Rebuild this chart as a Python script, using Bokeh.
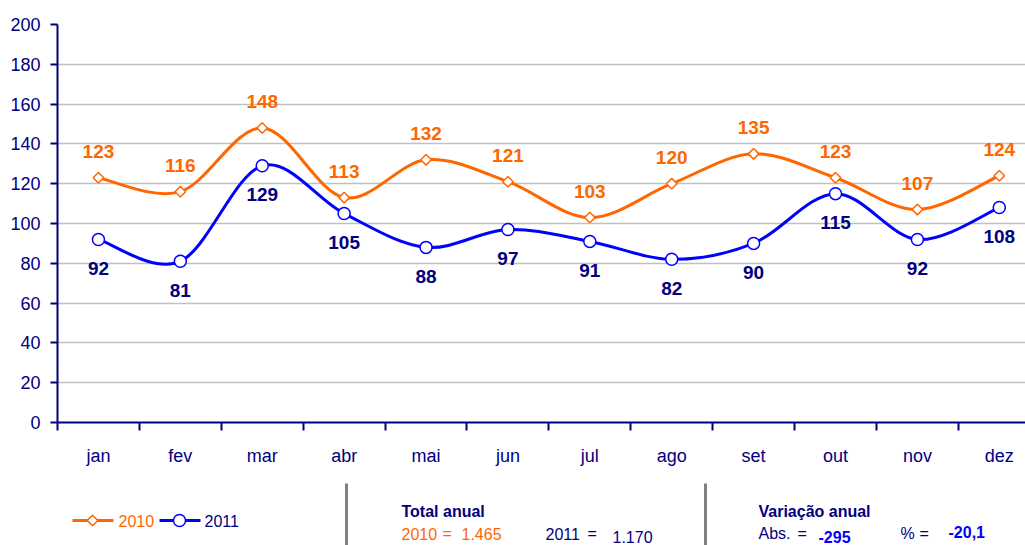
import math
from bokeh.plotting import figure
from bokeh.models import ColumnDataSource, FixedTicker, LabelSet, Range1d
from bokeh.layouts import column
from bokeh.core.properties import value
from bokeh.embed import file_html
from bokeh.resources import INLINE

months = ["jan", "fev", "mar", "abr", "mai", "jun", "jul", "ago", "set", "out", "nov", "dez"]
v2010 = [123, 116, 148, 113, 132, 121, 103, 120, 135, 123, 107, 124]
v2011 = [92, 81, 129, 105, 88, 97, 91, 82, 90, 115, 92, 108]
y_ticks = [0, 20, 40, 60, 80, 100, 120, 140, 160, 180, 200]
series_names = ["2010", "2011"]

ORANGE = "#FF6600"
BLUE = "#0000FF"
NAVY = "#000080"
GRID = "#C0C0C0"
FONT = "Liberation Sans"

xs = list(range(len(months)))


def bezier_cols(xv, yv):
    n = len(xv)
    d = dict(x0=[], y0=[], x1=[], y1=[], cx0=[], cy0=[], cx1=[], cy1=[])
    for i in range(n - 1):
        a = max(i - 1, 0)
        b = min(i + 2, n - 1)
        d["x0"].append(xv[i]); d["y0"].append(yv[i])
        d["x1"].append(xv[i + 1]); d["y1"].append(yv[i + 1])
        d["cx0"].append(xv[i] + (xv[i + 1] - xv[a]) / 6)
        d["cy0"].append(yv[i] + (yv[i + 1] - yv[a]) / 6)
        d["cx1"].append(xv[i + 1] - (xv[b] - xv[i]) / 6)
        d["cy1"].append(yv[i + 1] - (yv[b] - yv[i]) / 6)
    return ColumnDataSource(d)


W = 1025
H1 = 478
LEFT = 57
p = figure(width=W, height=H1,
           x_range=Range1d(-0.5, 11.32), y_range=Range1d(0, 200),
           output_backend="svg", toolbar_location=None,
           min_border_left=LEFT, min_border_right=0,
           min_border_top=24, min_border_bottom=56)
p.outline_line_color = None
p.background_fill_color = "white"
p.border_fill_color = "white"
p.xgrid.visible = False
p.ygrid.ticker = FixedTicker(ticks=y_ticks)
p.ygrid.grid_line_color = GRID
p.ygrid.grid_line_width = 1.5

# x axis
p.xaxis.ticker = FixedTicker(ticks=xs, minor_ticks=[i - 0.5 for i in range(len(months) + 1)])
p.xaxis.major_label_overrides = {i: m for i, m in enumerate(months)}
p.xaxis.major_tick_out = 0
p.xaxis.major_tick_in = 0
p.xaxis.major_tick_line_color = None
p.xaxis.minor_tick_out = 8
p.xaxis.minor_tick_in = 0
p.xaxis.minor_tick_line_color = NAVY
p.xaxis.minor_tick_line_width = 2
p.xaxis.axis_line_color = NAVY
p.xaxis.axis_line_width = 2
p.xaxis.major_label_standoff = 15
p.xaxis.major_label_text_font = FONT
p.xaxis.major_label_text_font_size = "18px"
p.xaxis.major_label_text_color = NAVY

# y axis
p.yaxis.ticker = FixedTicker(ticks=y_ticks)
p.yaxis.major_tick_out = 7
p.yaxis.major_tick_in = 0
p.yaxis.minor_tick_line_color = None
p.yaxis.major_tick_line_color = NAVY
p.yaxis.major_tick_line_width = 2
p.yaxis.axis_line_color = NAVY
p.yaxis.axis_line_width = 2
p.yaxis.major_label_standoff = 10
p.yaxis.major_label_text_font = FONT
p.yaxis.major_label_text_font_size = "18px"
p.yaxis.major_label_text_color = NAVY

# smooth lines
p.bezier(x0="x0", y0="y0", x1="x1", y1="y1", cx0="cx0", cy0="cy0", cx1="cx1", cy1="cy1",
         source=bezier_cols(xs, v2010), line_color=ORANGE, line_width=3)
p.bezier(x0="x0", y0="y0", x1="x1", y1="y1", cx0="cx0", cy0="cy0", cx1="cx1", cy1="cy1",
         source=bezier_cols(xs, v2011), line_color=BLUE, line_width=3)

src10 = ColumnDataSource(dict(x=xs, y=v2010, t=[str(v) for v in v2010]))
src11 = ColumnDataSource(dict(x=xs, y=v2011, t=[str(v) for v in v2011]))

p.scatter("x", "y", source=src10, marker="square", angle=math.pi / 4, size=7.5,
          fill_color="white", line_color=ORANGE, line_width=1.5)
p.scatter("x", "y", source=src11, marker="circle", size=12,
          fill_color="white", line_color=BLUE, line_width=1.5)

p.add_layout(LabelSet(x="x", y="y", text="t", source=src10, y_offset=26,
                      text_align="center", text_baseline="middle",
                      text_font=value(FONT), text_font_style="bold",
                      text_font_size="19px", text_color=ORANGE))
p.add_layout(LabelSet(x="x", y="y", text="t", source=src11, y_offset=-29,
                      text_align="center", text_baseline="middle",
                      text_font=value(FONT), text_font_style="bold",
                      text_font_size="19px", text_color=NAVY))

# bottom strip: legend and annual totals (x in page pixels)
H2 = 545 - H1
p2 = figure(width=W, height=H2, x_range=Range1d(LEFT, W), y_range=Range1d(0, H2),
            output_backend="svg", toolbar_location=None,
            x_axis_type=None, y_axis_type=None,
            min_border_left=LEFT, min_border_right=0, min_border_top=0, min_border_bottom=0)
p2.outline_line_color = None
p2.grid.visible = False
p2.background_fill_color = "white"
p2.border_fill_color = "white"

ly = 25
p2.line([72, 113], [ly, ly], line_color=ORANGE, line_width=3)
p2.scatter([92], [ly], marker="square", angle=math.pi / 4, size=7.5,
           fill_color="white", line_color=ORANGE, line_width=1.5)
p2.line([159, 200], [ly, ly], line_color=BLUE, line_width=3)
p2.scatter([179], [ly], marker="circle", size=12,
           fill_color="white", line_color=BLUE, line_width=1.5)
p2.text([118], [ly], text=[series_names[0]], text_font=value(FONT), text_font_size="16px",
        text_color=ORANGE, text_baseline="middle", text_align="left")
p2.text([204], [ly], text=[series_names[1]], text_font=value(FONT), text_font_size="16px",
        text_color=NAVY, text_baseline="middle", text_align="left")

p2.segment(x0=[346, 705], y0=[62, 62], x1=[346, 705], y1=[0, 0],
           line_color="#808080", line_width=3)

t10 = sum(v2010)
t11 = sum(v2011)
dabs = t11 - t10
pct = dabs / t10 * 100


def fmt_thousands(v):
    return f"{v:,}".replace(",", ".")


r1 = 34
r2 = 12
common = dict(text_font=value(FONT), text_baseline="middle", text_align="left")
p2.text([401, 758], [r1, r1], text=["Total anual", "Variação anual"],
        text_font_size="16px", text_font_style="bold", text_color=NAVY, **common)
p2.text([401, 442, 461], [r2, r2, r2], text=[series_names[0], "=", fmt_thousands(t10)],
        text_font_size="16px", text_color=ORANGE, **common)
p2.text([545, 587, 758, 797, 900, 919], [r2] * 6,
        text=[series_names[1], "=", "Abs.", "=", "%", "="],
        text_font_size="16px", text_color=NAVY, **common)
p2.text([612], [r2 - 3], text=[fmt_thousands(t11)],
        text_font_size="16px", text_color=NAVY, **common)
p2.text([818, 948], [r2 - 3, r2 + 2], text=[str(dabs), f"{pct:.1f}".replace(".", ",")],
        text_font_size="16px", text_font_style="bold", text_color=BLUE, **common)

layout = column(p, p2, spacing=0)
open("out.html", "w").write(file_html(layout, INLINE))
